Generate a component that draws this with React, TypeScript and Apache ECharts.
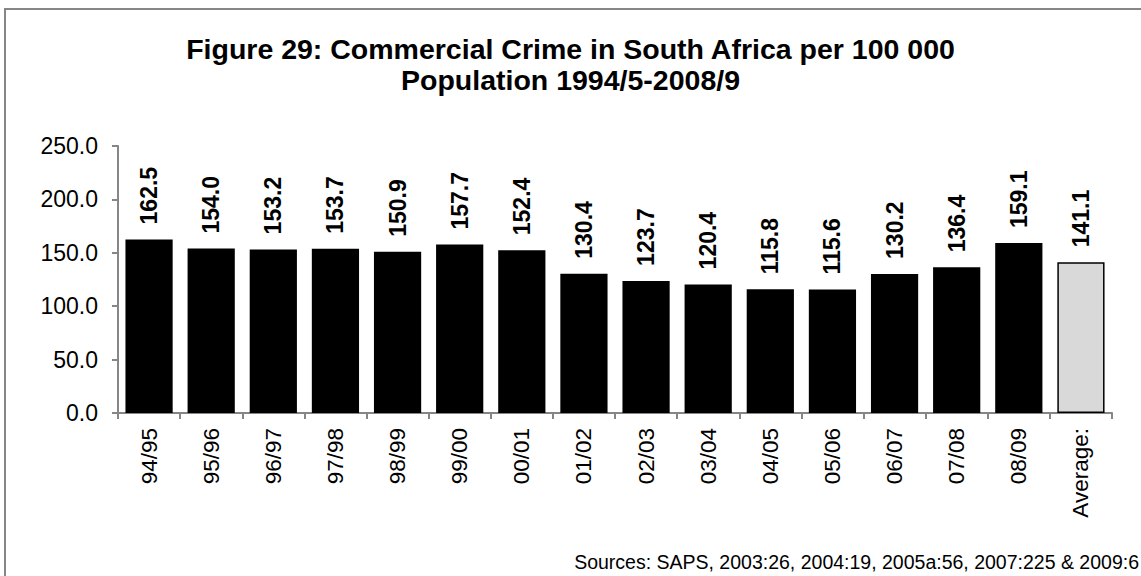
import React, { useEffect, useRef } from "react";
import * as echarts from "echarts";

const categories = ["94/95", "95/96", "96/97", "97/98", "98/99", "99/00", "00/01", "01/02", "02/03", "03/04", "04/05", "05/06", "06/07", "07/08", "08/09", "Average:"];
const values = [162.5, 154.0, 153.2, 153.7, 150.9, 157.7, 152.4, 130.4, 123.7, 120.4, 115.8, 115.6, 130.2, 136.4, 159.1, 141.1];
const yTicks = { min: 0, max: 250, interval: 50 };
const titleLines = ["Figure 29: Commercial Crime in South Africa per 100 000", "Population 1994/5-2008/9"];
const sourceText = "Sources: SAPS, 2003:26, 2004:19, 2005a:56, 2007:225 & 2009:6";

export default function App() {
  const ref = useRef<HTMLDivElement>(null);
  useEffect(() => {
    if (!ref.current) return;
    const chart = echarts.init(ref.current, null, { renderer: "svg" });
    const font = "Arial, 'Liberation Sans', Helvetica, sans-serif";
    chart.setOption({
      animation: false,
      backgroundColor: "#ffffff",
      textStyle: { fontFamily: font },
      title: {
        text: titleLines.join("\n"),
        left: "center",
        top: 28,
        textStyle: { fontFamily: font, fontSize: 28.5, fontWeight: "bold", color: "#000", lineHeight: 31 },
      },
      grid: { left: 118, right: 29, top: 146, bottom: 163, containLabel: false },
      xAxis: {
        type: "category",
        data: categories,
        axisLine: { show: true, lineStyle: { color: "#868686", width: 2 } },
        axisTick: { show: true, length: 6, lineStyle: { color: "#868686", width: 2 } },
        axisLabel: { rotate: 90, color: "#000", fontSize: 22.5, fontFamily: font, margin: 15, interval: 0 },
      },
      yAxis: {
        type: "value",
        min: yTicks.min,
        max: yTicks.max,
        interval: yTicks.interval,
        axisLine: { show: true, lineStyle: { color: "#868686", width: 2 } },
        axisTick: { show: true, length: 6, lineStyle: { color: "#868686", width: 2 } },
        splitLine: { show: false },
        axisLabel: {
          color: "#000",
          fontSize: 23,
          fontFamily: font,
          margin: 20,
          formatter: (v: number) => v.toFixed(1),
        },
      },
      series: [
        {
          type: "bar",
          barCategoryGap: "24%",
          data: values.map((v, i) => ({
            value: v,
            itemStyle:
              i === values.length - 1
                ? { color: "#d9d9d9", borderColor: "#000", borderWidth: 1.5 }
                : { color: "#000", borderColor: "#000", borderWidth: 0 },
          })),
          label: {
            show: true,
            position: "top",
            rotate: 90,
            align: "left",
            verticalAlign: "middle",
            distance: 15,
            color: "#000",
            fontSize: 23,
            fontWeight: "bold",
            fontFamily: font,
            formatter: (p: any) => Number(p.value).toFixed(1),
          },
        },
      ],
      graphic: [
        {
          type: "rect",
          shape: { x: 5, y: 9, width: 1300, height: 700 },
          style: { fill: "none", stroke: "#868686", lineWidth: 2 },
          silent: true,
          z: -1,
        },
        {
          type: "text",
          right: 2,
          top: 552,
          style: { text: sourceText, font: `19.5px ${font}`, fill: "#000" },
        },
      ],
    });
    return () => chart.dispose();
  }, []);
  return <div ref={ref} style={{ position: "fixed", left: 0, top: 0, width: 1141, height: 576 }} />;
}
